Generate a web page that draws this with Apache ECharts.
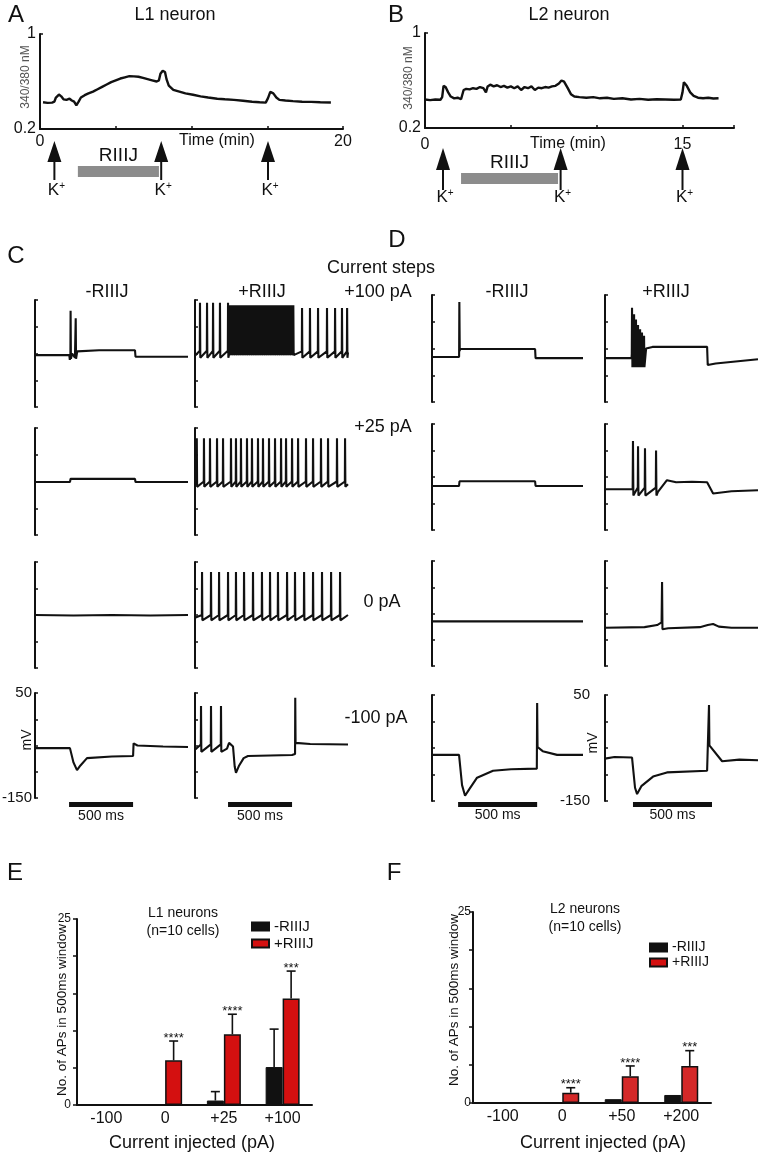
<!DOCTYPE html>
<html><head><meta charset="utf-8">
<script src="https://cdn.jsdelivr.net/npm/echarts@6/dist/echarts.min.js"></script>
<style>html,body{margin:0;padding:0;background:#fff}#c{width:762px;height:1156px}</style>
</head><body><div id="c"></div>
<script>
// ---------------- DATA ----------------
// Panel A (L1 neuron): time (min), 340/380 ratio
const A_trace = [[0.2,0.425],[0.5,0.42],[0.8,0.422],[0.95,0.43],[1.05,0.465],[1.25,0.49],[1.4,0.475],[1.55,0.45],[1.75,0.445],[1.95,0.455],[2.1,0.44],[2.25,0.43],[2.4,0.40],[2.55,0.43],[2.7,0.465],[2.95,0.485],[3.2,0.5],[3.5,0.515],[3.8,0.535],[4.1,0.555],[4.4,0.575],[4.7,0.595],[5.0,0.61],[5.3,0.625],[5.6,0.635],[5.9,0.645],[6.2,0.643],[6.5,0.64],[6.8,0.63],[7.1,0.62],[7.4,0.61],[7.7,0.60],[7.85,0.61],[7.95,0.665],[8.1,0.69],[8.25,0.68],[8.35,0.62],[8.5,0.565],[8.8,0.53],[9.2,0.515],[9.6,0.50],[10.1,0.488],[10.6,0.475],[11.1,0.465],[11.7,0.455],[12.2,0.45],[12.8,0.445],[13.4,0.438],[14.0,0.43],[14.5,0.425],[14.9,0.422],[15.05,0.46],[15.2,0.512],[15.4,0.5],[15.6,0.465],[15.8,0.445],[16.2,0.44],[16.7,0.435],[17.3,0.43],[17.9,0.428],[18.5,0.425],[19.2,0.423]];
const A_kTimes = [0.95, 8.0, 15.05];
const A_riiij = [2.5, 7.85];
// Panel B (L2 neuron)
const B_trace = [[0,0.44],[0.3,0.435],[0.6,0.44],[0.9,0.438],[1.0,0.46],[1.08,0.555],[1.2,0.545],[1.35,0.5],[1.5,0.465],[1.7,0.45],[1.9,0.455],[2.1,0.442],[2.18,0.445],[2.25,0.52],[2.4,0.53],[2.6,0.525],[2.8,0.535],[3.0,0.53],[3.2,0.545],[3.4,0.535],[3.55,0.5],[3.65,0.55],[3.8,0.565],[4.0,0.55],[4.2,0.56],[4.4,0.545],[4.6,0.555],[4.8,0.54],[5.0,0.55],[5.2,0.535],[5.4,0.55],[5.6,0.52],[5.8,0.545],[6.0,0.535],[6.2,0.55],[6.4,0.52],[6.6,0.54],[6.8,0.535],[7.0,0.545],[7.2,0.54],[7.4,0.55],[7.6,0.555],[7.8,0.575],[7.95,0.6],[8.1,0.59],[8.3,0.54],[8.5,0.485],[8.7,0.465],[9.0,0.46],[9.4,0.455],[9.8,0.46],[10.2,0.45],[10.6,0.455],[11.0,0.445],[11.5,0.45],[12.0,0.44],[12.5,0.445],[13.0,0.438],[13.5,0.442],[14.0,0.44],[14.5,0.438],[14.9,0.44],[15.0,0.5],[15.08,0.585],[15.25,0.555],[15.45,0.5],[15.65,0.47],[15.9,0.455],[16.2,0.45],[16.5,0.455],[16.8,0.448],[17.1,0.45]];
const B_kTimes = [1.05, 7.9, 15.0];
const B_riiij = [2.1, 7.75];

// Panels C/D: membrane potential (mV) vs time (ms). base = slow keypoints, spikes = spike groups
const C1L_base = [[0,-53],[268,-53],[272,-62],[290,-50],[312,-58],[330,-46],[500,-44],[781,-44],[785,-56],[1195,-56]];
const C1L_spikes = [{t:[278,318], peak:[30,16], ahp:-60, thr:-55}];
const C1R_base = [[0,-54],[1195,-48]];
const C1R_spikes = [
  {t:[39,94,141,195,258], peak:45, ahp:-58, thr:-45},
  {t:[272,287,301,316,330,345,360,374,389,403,418,433,447,462,476,491,506,520,535,549,564,579,593,608,622,637,652,666,681,695,710,725,739,754,768], peak:40, ahp:-53, thr:-47},
  {t:[836,898,961,1031,1094,1148,1188], peak:35, ahp:-58, thr:-46}];
const C2L_base = [[0,-51],[273,-51],[278,-45],[781,-45],[785,-51],[1195,-51]];
const C2R_base = [[0,-55],[1195,-55]];
const C2R_spikes = [{t:[14,70,117,172,219,281,320,359,406,445,492,531,578,625,672,711,758,805,867,922,984,1039,1109,1172], peak:31, ahp:-60, thr:-50}];
const C3L_base = [[0,-50],[300,-51],[600,-50],[900,-51],[1195,-50]];
const C3R_base = [[0,-55],[1195,-50]];
const C3R_spikes = [{t:[55,125,188,258,320,383,453,523,586,648,719,781,852,922,992,1063,1133], peak:31, ahp:-60, thr:-50}];
const C4L_base = [[0,-55],[273,-55],[300,-82],[328,-97],[355,-88],[406,-74],[600,-71],[766,-70],[770,-46],[800,-50],[1000,-52],[1195,-53]];
const C4R_base = [[0,-58],[250,-56],[266,-45],[297,-52],[310,-90],[320,-102],[345,-88],[380,-74],[414,-70],[758,-68],[790,-45],[900,-47],[1195,-48]];
const C4R_spikes = [{t:[47,125,203], peak:25, ahp:-62, thr:-48},{t:[783], peak:41, ahp:-45, thr:-66}];

const D1L_base = [[0,-66],[171,-66],[176,-51],[652,-51],[655,-68],[955,-68]];
const D1L_spikes = [{t:[173], peak:37, ahp:-55, thr:-62}];
const D1R_base = [[0,-68],[168,-68],[260,-50],[300,-47],[646,-47],[650,-81],[700,-78],[968,-70]];
const D1R_spikes = [{t:[171,184,196,209,222,234,247], peak:[26,14,4,-6,-14,-20,-26], ahp:-85, thr:-60}];
const D2L_base = [[0,-67],[171,-67],[174,-58],[652,-58],[655,-67],[955,-67]];
const D2R_base = [[0,-73],[175,-73],[335,-78],[392,-56],[450,-60],[550,-59],[646,-60],[684,-81],[800,-77],[968,-75]];
const D2R_spikes = [{t:[177,209,253,323], peak:[18,8,4,0], ahp:-85, thr:-70}];
const D3L_base = [[0,-65],[955,-65]];
const D3R_base = [[0,-77],[250,-76],[330,-72],[358,-67],[368,-80],[400,-78],[600,-76],[650,-72],[684,-70],[720,-75],[800,-77],[968,-77]];
const D3R_spikes = [{t:[361], peak:10, ahp:-80, thr:-66}];
const D4L_base = [[0,-63],[171,-63],[190,-120],[209,-140],[235,-128],[285,-106],[386,-93],[500,-90],[663,-89],[668,-48],[700,-56],[791,-63],[955,-63]];
const D4L_spikes = [{t:[665], peak:35, ahp:-48, thr:-89}];
const D4R_base = [[0,-70],[60,-67],[171,-68],[190,-125],[203,-137],[230,-122],[304,-104],[392,-96],[646,-93],[656,-92],[662,-45],[741,-75],[850,-72],[968,-73]];
const D4R_spikes = [{t:[658], peak:31, ahp:-45, thr:-92}];

const C_scaleBarL = [266, 766];
const C_scaleBarR = [258, 758];
const D_scaleBarL = [165, 665];
const D_scaleBarR = [177, 677];

// Panels E/F: number of APs in 500 ms window
const E_categories = ['-100','0','+25','+100'];
const E_minus = [0, 0, 0.6, 5.1];
const E_minusErr = [null, null, 1.8, 10.2];
const E_plus = [0, 6, 9.5, 14.3];
const E_plusErr = [null, 8.6, 12.2, 18.0];
const E_stars = ['', '****', '****', '***'];
const F_categories = ['-100','0','+50','+200'];
const F_minus = [0, 0, 0.5, 1.05];
const F_minusErr = [null, null, null, null];
const F_plus = [0, 1.35, 3.5, 4.85];
const F_plusErr = [null, 2.0, 4.85, 6.85];
const F_stars = ['', '****', '****', '***'];

// ---------------- BUILD ----------------
const FONT = '"Liberation Sans", Arial, Helvetica, sans-serif';
const INK = '#111';
const RED = '#d41010';
const grids = [], xAxes = [], yAxes = [], series = [], graphics = [];

function addGrid(g, x, y) {
  grids.push(Object.assign({outerBoundsMode:'none'}, g));
  const i = grids.length - 1;
  xAxes.push(Object.assign({gridIndex:i}, x));
  yAxes.push(Object.assign({gridIndex:i}, y));
  return i;
}
function buildTrace(base, groups) {
  const pts = base.map(p => [p[0], p[1]]);
  (groups || []).forEach(g => {
    g.t.forEach((t, k) => {
      const pk = Array.isArray(g.peak) ? g.peak[k] : g.peak;
      pts.push([t - 1.5, g.thr], [t, pk], [t + 2.5, g.ahp]);
    });
  });
  pts.sort((a, b) => a[0] - b[0]);
  return pts;
}
function txt(text, x, y, size, extra) {
  graphics.push(Object.assign({type:'text', x:x, y:y, silent:true,
    style:Object.assign({text:text, fontSize:size, fontFamily:FONT, fill:INK,
      align:'center', verticalAlign:'middle', textAlign:'center', textVerticalAlign:'middle'}, (extra && extra.style) || {})},
    (extra && extra.el) || {}));
}
const axLine = {show:true, lineStyle:{color:INK, width:2}};
const ROT = {el:{rotation:Math.PI / 2}};

// ---- A & B ----
function arrowRender(tipOff, headOff, tailOff, textOff) {
  return function (params, api) {
    const p = api.coord([api.value(0), api.value(1)]);
    const x = p[0], y0 = p[1];
    return {type:'group', children:[
      {type:'line', shape:{x1:x, y1:y0 + headOff - 2, x2:x, y2:y0 + tailOff}, style:{stroke:INK, lineWidth:2}},
      {type:'polygon', shape:{points:[[x, y0 + tipOff], [x - 7, y0 + headOff], [x + 7, y0 + headOff]]}, style:{fill:INK}},
      {type:'text', style:{text:'{k|K}{s|+}', x:x + 2, y:y0 + textOff, align:'center', verticalAlign:'middle',
        rich:{k:{fontSize:17, fontFamily:FONT, fill:INK}, s:{fontSize:10, fontFamily:FONT, fill:INK, verticalAlign:'top'}}}}
    ]};
  };
}
function riiijRender(barOff, barH, textOff) {
  return function (params, api) {
    const a = api.coord([api.value(0), api.value(2)]);
    const b = api.coord([api.value(1), api.value(2)]);
    return {type:'group', children:[
      {type:'rect', shape:{x:a[0], y:a[1] + barOff, width:b[0] - a[0], height:barH}, style:{fill:'#8c8c8c'}},
      {type:'text', style:{text:'RIIIJ', x:(a[0] + b[0]) / 2, y:a[1] + textOff, align:'center', verticalAlign:'middle', fontSize:19, fontFamily:FONT, fill:INK}}
    ]};
  };
}
function calciumPanel(g, xmax, labelVals, trace, kTimes, riiij, arrowOff, barOff) {
  const i = addGrid(g,
    {type:'value', min:0, max:xmax, interval:5, axisLine:axLine,
     axisTick:{show:true, inside:true, length:3, lineStyle:{color:INK, width:1.5}}, splitLine:{show:false},
     axisLabel:{margin:labelVals.margin, fontSize:16, color:INK, fontFamily:FONT,
       formatter:v => (labelVals.show.indexOf(v) >= 0 ? String(v) : '')}},
    {type:'value', min:0.2, max:1, interval:0.8, axisLine:axLine,
     axisTick:{show:true, inside:true, length:3, lineStyle:{color:INK, width:1.5}}, splitLine:{show:false},
     axisLabel:{margin:4, fontSize:16, color:INK, fontFamily:FONT, formatter:v => (Math.abs(v - 1) < 1e-6 ? '1' : '0.2')}});
  series.push({type:'line', xAxisIndex:i, yAxisIndex:i, data:trace, showSymbol:false, silent:true,
    lineStyle:{color:INK, width:2.4}});
  series.push({type:'custom', xAxisIndex:i, yAxisIndex:i, clip:false, silent:true,
    data:kTimes.map(t => [t, 0.2]), encode:{x:0, y:1}, renderItem:arrowRender.apply(null, arrowOff)});
  series.push({type:'custom', xAxisIndex:i, yAxisIndex:i, clip:false, silent:true,
    data:[[riiij[0], riiij[1], 0.2]], encode:{x:[0, 1], y:2}, renderItem:riiijRender.apply(null, barOff)});
}
calciumPanel({left:40, top:34, width:303, height:95}, 20, {show:[0, 20], margin:5}, A_trace, A_kTimes, A_riiij, [12, 33, 51, 61], [37, 11, 27]);
calciumPanel({left:425, top:33, width:309, height:95}, 18, {show:[0, 15], margin:9}, B_trace, B_kTimes, B_riiij, [20, 42, 62, 69], [45, 11, 35]);

txt('A', 16, 15, 24);
txt('L1 neuron', 175, 15, 18);
txt('B', 396, 15, 24);
txt('L2 neuron', 569, 15, 18);
txt('Time (min)', 217, 141, 16);
txt('Time (min)', 568, 144, 16);
txt('340/380 nM', 26, 77, 12, {style:{fill:'#555'}, el:{rotation:Math.PI / 2}});
txt('340/380 nM', 409, 78, 12, {style:{fill:'#555'}, el:{rotation:Math.PI / 2}});

// ---- C & D ----
const cols = {
  CL:{left:35, width:153, max:1195}, CR:{left:195, width:153, max:1195},
  DL:{left:432, width:151, max:955}, DR:{left:605, width:153, max:968}};
const rowsC = [[300,107],[428,107],[562,106],[693,105]];
const rowsD = [[295,107],[424,106],[561,105],[695,106]];
const traceLayout = [
  ['CL',0,C1L_base,C1L_spikes],['CR',0,C1R_base,C1R_spikes],['DL',0,D1L_base,D1L_spikes],['DR',0,D1R_base,D1R_spikes],
  ['CL',1,C2L_base,null],['CR',1,C2R_base,C2R_spikes],['DL',1,D2L_base,null],['DR',1,D2R_base,D2R_spikes],
  ['CL',2,C3L_base,null],['CR',2,C3R_base,C3R_spikes],['DL',2,D3L_base,null],['DR',2,D3R_base,D3R_spikes],
  ['CL',3,C4L_base,null],['CR',3,C4R_base,C4R_spikes],['DL',3,D4L_base,D4L_spikes],['DR',3,D4R_base,D4R_spikes]];
function scaleBarRender(barOff, barH, textOff) {
  return function (params, api) {
    const a = api.coord([api.value(0), -150]);
    const b = api.coord([api.value(1), -150]);
    return {type:'group', children:[
      {type:'rect', shape:{x:a[0], y:a[1] + barOff, width:b[0] - a[0], height:barH}, style:{fill:INK}},
      {type:'text', style:{text:'500 ms', x:(a[0] + b[0]) / 2, y:a[1] + textOff, align:'center', verticalAlign:'middle', fontSize:14, fontFamily:FONT, fill:INK}}
    ]};
  };
}
const scaleBars = {CL:C_scaleBarL, CR:C_scaleBarR, DL:D_scaleBarL, DR:D_scaleBarR};
traceLayout.forEach(item => {
  const c = cols[item[0]], r = (item[0][0] === 'C' ? rowsC : rowsD)[item[1]];
  const labelled = item[1] === 3 && (item[0] === 'CL' || item[0] === 'DR');
  const i = addGrid({left:c.left, top:r[0], width:c.width, height:r[1]},
    {type:'value', min:0, max:c.max, show:false},
    {type:'value', min:-150, max:50, interval:50, axisLine:axLine,
     axisTick:{show:true, inside:true, length:3, lineStyle:{color:INK, width:1.5}}, splitLine:{show:false},
     axisLabel:{show:labelled, margin:item[0] === 'CL' ? 3 : 15, fontSize:15, color:INK, fontFamily:FONT,
       formatter:v => (v === 50 || v === -150 ? String(v) : '')}});
  series.push({type:'line', xAxisIndex:i, yAxisIndex:i, data:buildTrace(item[2], item[3]), showSymbol:false, silent:true,
    lineStyle:{color:INK, width:2.1}});
  if (item[1] === 3) {
    const isC = item[0][0] === 'C';
    const sb = scaleBars[item[0]];
    series.push({type:'custom', xAxisIndex:i, yAxisIndex:i, clip:false, silent:true,
      data:[[sb[0], sb[1], -150]], encode:{x:[0, 1], y:2},
      renderItem:isC ? scaleBarRender(4, 5, 18) : scaleBarRender(1, 5, 14)});
  }
});
txt('C', 16, 256, 24);
txt('D', 397, 240, 24);
txt('Current steps', 381, 268, 18);
txt('-RIIIJ', 107, 292, 18);
txt('+RIIIJ', 262, 292, 18);
txt('+100 pA', 378, 292, 18);
txt('-RIIIJ', 507, 292, 18);
txt('+RIIIJ', 666, 292, 18);
txt('+25 pA', 383, 427, 18);
txt('0 pA', 382, 602, 18);
txt('-100 pA', 376, 718, 18);
txt('mV', 27, 740, 14, ROT);
txt('mV', 593, 743, 14, ROT);

// ---- E & F ----
function errRender(list) {
  return function (params, api) {
    const d = list[params.dataIndex];
    const base = api.coord([api.value(0), api.value(2)]);
    const top = api.coord([api.value(0), api.value(3)]);
    const x = base[0] + (api.value(1) === 0 ? -8.5 : 8.5);
    const ch = [
      {type:'line', shape:{x1:x, y1:base[1], x2:x, y2:top[1]}, style:{stroke:INK, lineWidth:1.6}},
      {type:'line', shape:{x1:x - 4.5, y1:top[1], x2:x + 4.5, y2:top[1]}, style:{stroke:INK, lineWidth:1.6}}];
    if (d.star) ch.push({type:'text', style:{text:d.star, x:x, y:top[1] - 3, align:'center', verticalAlign:'middle', fontSize:13, fontFamily:FONT, fill:INK}});
    return {type:'group', children:ch};
  };
}
function barPanel(g, cats, minus, minusErr, plus, plusErr, stars, red, labelMargin) {
  const i = addGrid(g,
    {type:'category', data:cats, axisLine:axLine, axisTick:{show:false},
     axisLabel:{margin:6, fontSize:16, color:INK, fontFamily:FONT}},
    {type:'value', min:0, max:25, interval:5, axisLine:axLine,
     axisTick:{show:true, inside:false, length:4, lineStyle:{color:INK, width:1.5}}, splitLine:{show:false},
     axisLabel:{margin:labelMargin, fontSize:12, color:INK, fontFamily:FONT, formatter:v => (v === 0 || v === 25 ? String(v) : '')}});
  series.push({type:'bar', name:'-RIIIJ', xAxisIndex:i, yAxisIndex:i, data:minus, barWidth:17, barGap:'0%', silent:true,
    itemStyle:{color:INK, borderColor:INK, borderWidth:1}});
  series.push({type:'bar', name:'+RIIIJ', xAxisIndex:i, yAxisIndex:i, data:plus, barWidth:17, barGap:'0%', silent:true,
    itemStyle:{color:red, borderColor:INK, borderWidth:1.5}});
  const list = [];
  cats.forEach((c, k) => {
    if (minusErr[k] != null) list.push({v:[k, 0, minus[k], minusErr[k]], star:''});
    if (plusErr[k] != null) list.push({v:[k, 1, plus[k], plusErr[k]], star:stars[k]});
  });
  series.push({type:'custom', xAxisIndex:i, yAxisIndex:i, clip:false, silent:true, z:5,
    data:list.map(d => d.v), encode:{x:0, y:3}, renderItem:errRender(list)});
}
barPanel({left:77, top:919, width:235, height:186}, E_categories, E_minus, E_minusErr, E_plus, E_plusErr, E_stars, RED, 6);
barPanel({left:473, top:912, width:238, height:191}, F_categories, F_minus, F_minusErr, F_plus, F_plusErr, F_stars, '#d42828', 2);

txt('E', 15, 873, 24);
txt('F', 394, 873, 24);
txt('L1 neurons', 183, 913, 14);
txt('(n=10 cells)', 183, 931, 14);
txt('L2 neurons', 585, 909, 14);
txt('(n=10 cells)', 585, 927, 14);
txt('No. of APs in 500ms window', 62, 1010, 13.5, ROT);
txt('No. of APs in 500ms window', 454, 1000, 13.5, ROT);
txt('Current injected (pA)', 192, 1143, 18);
txt('Current injected (pA)', 603, 1143, 18);

const legends = [
  {left:251, top:919, orient:'vertical', padding:0, itemGap:2, itemWidth:17, itemHeight:8, icon:'rect',
   data:['-RIIIJ','+RIIIJ'], selectedMode:false, textStyle:{fontSize:15, lineHeight:15, color:INK, fontFamily:FONT}},
  {left:649, top:940, orient:'vertical', padding:0, itemGap:0, itemWidth:17, itemHeight:8, icon:'rect',
   data:['-RIIIJ','+RIIIJ'], selectedMode:false, textStyle:{fontSize:14, lineHeight:15, color:INK, fontFamily:FONT}}];

const chart = echarts.init(document.getElementById('c'), null, {renderer:'canvas'});
chart.setOption({animation:false, backgroundColor:'#fff', textStyle:{fontFamily:FONT},
  grid:grids, xAxis:xAxes, yAxis:yAxes, series:series, legend:legends, graphic:graphics});
</script></body></html>
